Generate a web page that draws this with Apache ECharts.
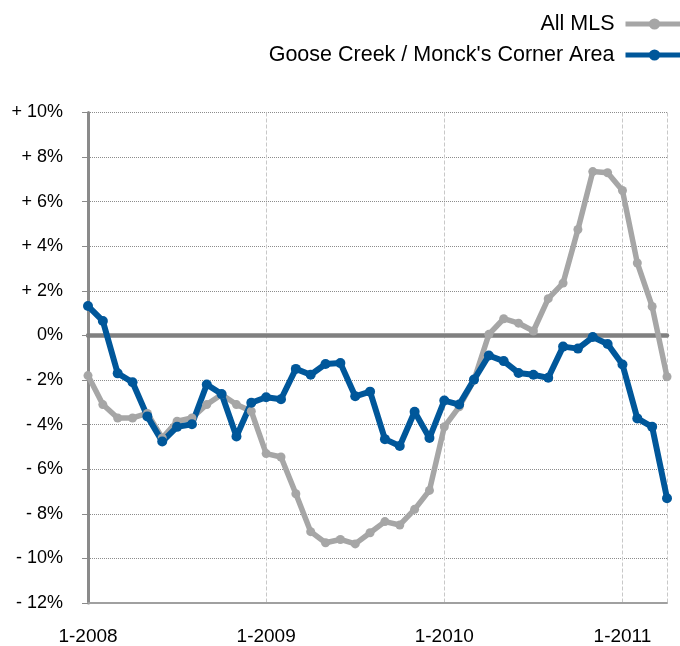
<!DOCTYPE html>
<html>
<head>
<meta charset="utf-8">
<script src="https://cdn.jsdelivr.net/npm/echarts@6/dist/echarts.min.js"></script>
<style>
    html, body { margin: 0; padding: 0; background: #fff; }
    #chart { width: 680px; height: 646px; }
</style>
</head>
<body>
<div id="chart"></div>
<script type="text/javascript">
    // 月份：1-2008 到 4-2011
    var months = [];
    for (var y = 2008; y <= 2011; y++) {
        for (var m = 1; m <= 12; m++) {
            if (y === 2011 && m > 4) break;
            months.push(m + '-' + y);
        }
    }

    var allMls = [-1.8, -3.1, -3.7, -3.7, -3.5, -4.6, -3.85, -3.7, -3.1, -2.65,
        -3.1, -3.4, -5.3, -5.45, -7.1, -8.8, -9.3, -9.15, -9.35, -8.85,
        -8.35, -8.5, -7.8, -6.95, -4.1, -3.2, -2.0, 0.05, 0.75, 0.55,
        0.2, 1.65, 2.35, 4.75, 7.35, 7.3, 6.5, 3.25, 1.3, -1.85];

    var gooseCreek = [1.32, 0.65, -1.7, -2.1, -3.63, -4.76, -4.1, -3.98, -2.2, -2.63,
        -4.53, -3.02, -2.77, -2.86, -1.5, -1.76, -1.28, -1.24, -2.73, -2.52,
        -4.65, -4.96, -3.42, -4.6, -2.92, -3.1, -1.98, -0.9, -1.15, -1.68,
        -1.76, -1.9, -0.5, -0.59, -0.07, -0.38, -1.3, -3.72, -4.1, -7.3];

    var font = '"Liberation Sans", Arial, Helvetica, sans-serif';

    var chart = echarts.init(document.getElementById('chart'));
    chart.setOption({
        animation: false,
        legend: {
            orient: 'vertical',
            right: -11,
            top: 8,
            align: 'right',
            itemWidth: 58,
            itemHeight: 14,
            itemGap: 9,
            lineStyle: {width: 5},
            formatter: function (name) { return name + ' '; },
            textStyle: {fontFamily: font, fontSize: 21.5, color: '#000'},
            data: ['All MLS', "Goose Creek / Monck's Corner Area"]
        },
        grid: {left: 88, right: 13, top: 112.5, bottom: 40.5, containLabel: false},
        xAxis: [
            {
                type: 'category',
                data: months,
                boundaryGap: false,
                axisLine: {show: true, onZero: false, lineStyle: {color: '#a0a0a0', width: 2}},
                axisTick: {show: false},
                axisLabel: {
                    interval: function (i) { return i % 12 === 0; },
                    fontFamily: font, fontSize: 19, color: '#000', margin: 24
                },
                splitLine: {
                    show: true,
                    interval: function (i) { return i % 12 === 0 || i === months.length - 1; },
                    lineStyle: {color: '#c8c8c8', type: 'dashed', width: 1}
                }
            },
            {
                // 零线
                type: 'category',
                data: months,
                boundaryGap: false,
                axisLine: {show: true, onZero: true, lineStyle: {color: '#808080', width: 4.5}},
                axisTick: {show: false},
                axisLabel: {show: false},
                splitLine: {show: false}
            }
        ],
        yAxis: {
            type: 'value',
            min: -12,
            max: 10,
            interval: 2,
            axisLine: {show: true, lineStyle: {color: '#8a8a8a', width: 3}},
            axisTick: {show: true, length: 6, lineStyle: {color: '#8a8a8a', width: 1}},
            axisLabel: {
                fontFamily: font, fontSize: 18, color: '#000', margin: 25,
                formatter: function (v) {
                    if (v > 0) return '+ ' + v + '%';
                    if (v < 0) return '- ' + Math.abs(v) + '%';
                    return '0%';
                }
            },
            splitLine: {show: true, lineStyle: {color: '#8c8c8c', type: 'dotted', width: 1}}
        },
        series: [
            {
                name: 'All MLS',
                type: 'line',
                data: allMls,
                symbol: 'circle',
                symbolSize: 9,
                showAllSymbol: true,
                itemStyle: {color: '#a6a6a6'},
                lineStyle: {color: '#a6a6a6', width: 5.5}
            },
            {
                name: "Goose Creek / Monck's Corner Area",
                type: 'line',
                data: gooseCreek,
                symbol: 'circle',
                symbolSize: 10,
                showAllSymbol: true,
                itemStyle: {color: '#00579a'},
                lineStyle: {color: '#00579a', width: 6}
            }
        ]
    });
</script>
</body>
</html>
